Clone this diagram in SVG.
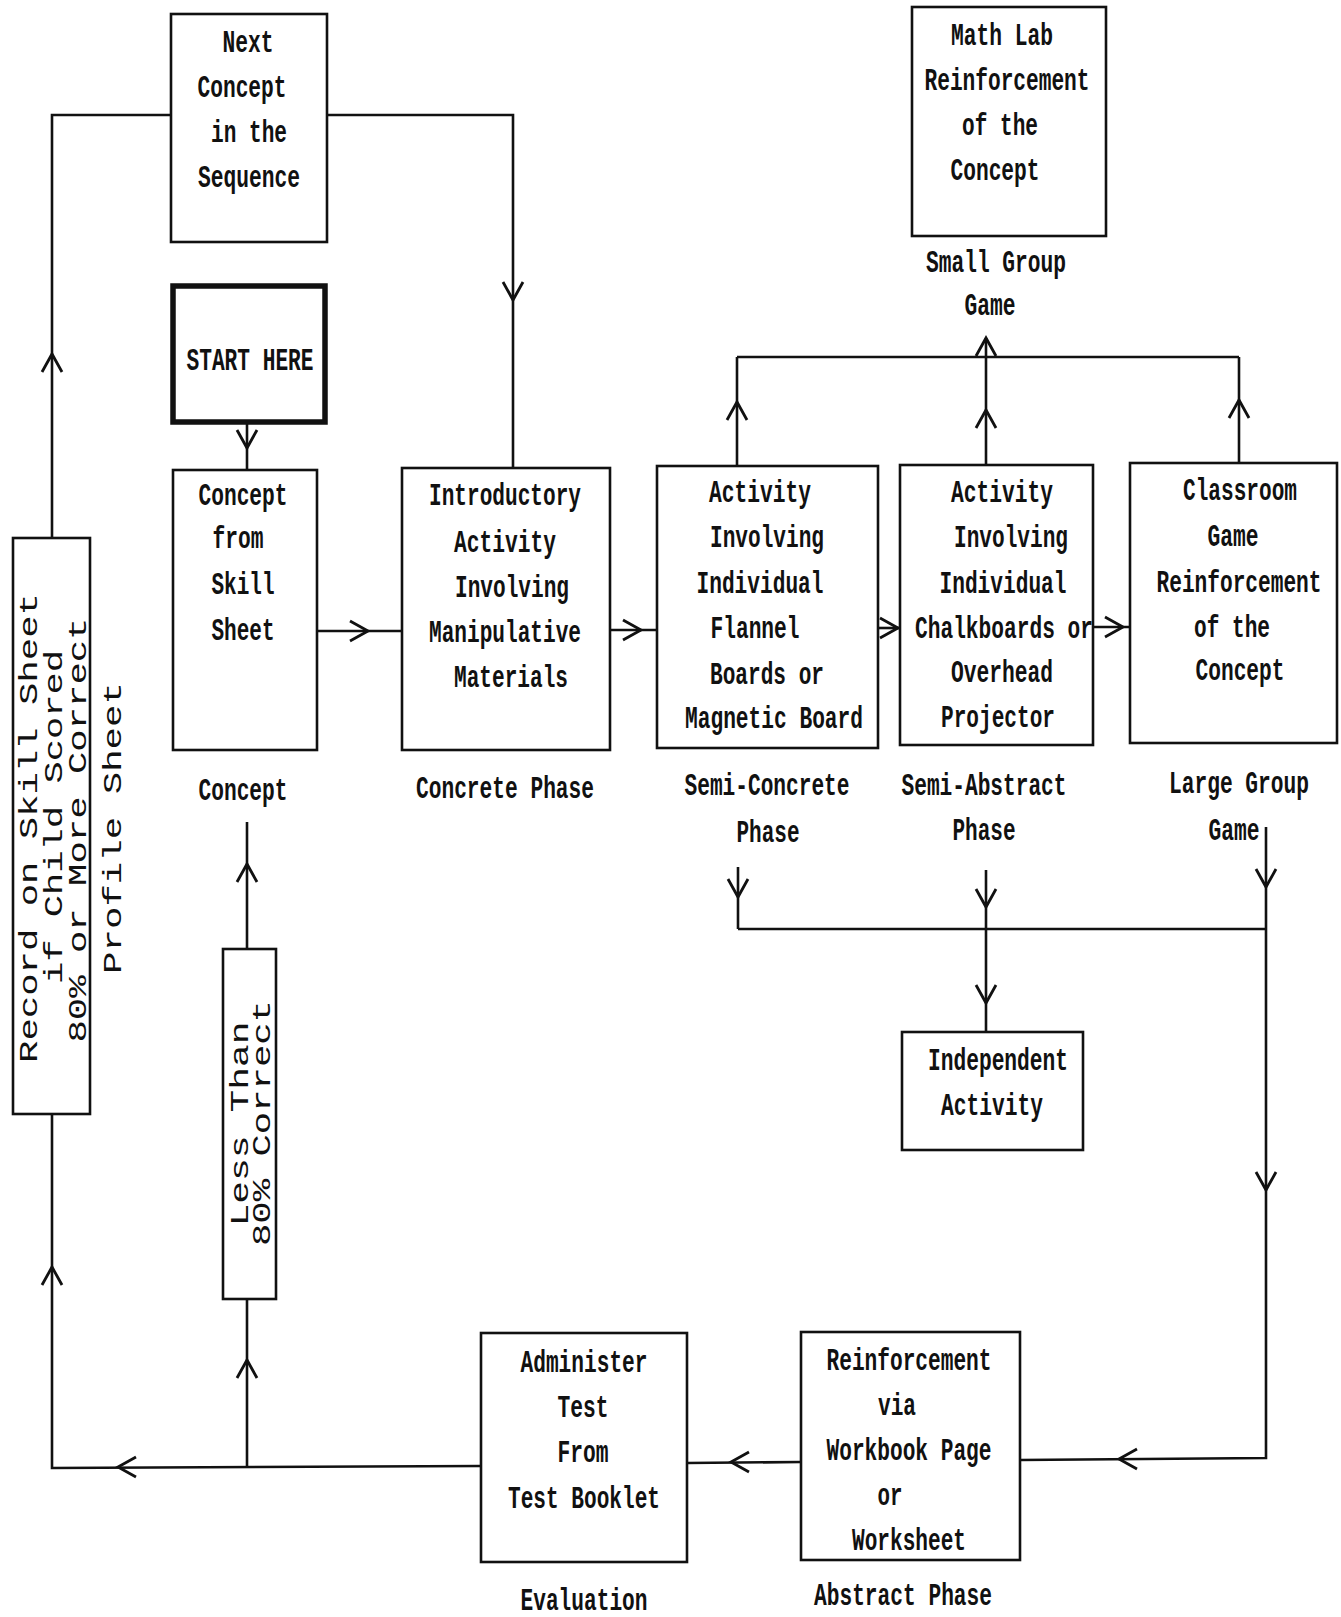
<svg xmlns="http://www.w3.org/2000/svg" xmlns:xlink="http://www.w3.org/1999/xlink" width="1341" height="1617" viewBox="0 0 1341 1617">
<style>
.bg{fill:#ffffff}
.box{fill:none;stroke:#111;stroke-width:2.6}
.thick{fill:none;stroke:#111;stroke-width:5.5}
.ln{fill:none;stroke:#111;stroke-width:2.6}
.ah{fill:none;stroke:#111;stroke-width:2.8;stroke-linejoin:miter}
.t{font-family:"Liberation Mono","DejaVu Sans Mono",monospace;font-size:31px;font-weight:bold;fill:#111;text-anchor:middle}
.v{font-family:"Liberation Mono","DejaVu Sans Mono",monospace;font-size:26px;fill:#111;text-anchor:middle}
</style>
<defs>
<path id="ah" d="M-18,-10 L0,0 L-18,10"/>
</defs>
<rect class="bg" x="0" y="0" width="1341" height="1617"/>

<g id="connectors">
<polyline class="ln" points="171,115 52,115 52,538"/>
<use href="#ah" class="ah" transform="translate(52,354) rotate(-90)"/>
<polyline class="ln" points="327,115 513,115 513,467"/>
<use href="#ah" class="ah" transform="translate(513,300) rotate(90)"/>
<line class="ln" x1="247" y1="423" x2="247" y2="470"/>
<use href="#ah" class="ah" transform="translate(247,448) rotate(90)"/>
<line class="ln" x1="317" y1="631" x2="402" y2="631"/>
<use href="#ah" class="ah" transform="translate(368,631)"/>
<line class="ln" x1="610" y1="630" x2="657" y2="630"/>
<use href="#ah" class="ah" transform="translate(641,630)"/>
<line class="ln" x1="878" y1="628" x2="900" y2="628"/>
<use href="#ah" class="ah" transform="translate(898,628)"/>
<line class="ln" x1="1093" y1="627" x2="1130" y2="627"/>
<use href="#ah" class="ah" transform="translate(1123,627)"/>
<line class="ln" x1="737" y1="466" x2="737" y2="357"/>
<use href="#ah" class="ah" transform="translate(737,402) rotate(-90)"/>
<line class="ln" x1="986" y1="465" x2="986" y2="338"/>
<use href="#ah" class="ah" transform="translate(986,410) rotate(-90)"/>
<use href="#ah" class="ah" transform="translate(986,338) rotate(-90)"/>
<line class="ln" x1="1239" y1="463" x2="1239" y2="357"/>
<use href="#ah" class="ah" transform="translate(1239,400) rotate(-90)"/>
<line class="ln" x1="737" y1="357" x2="1239" y2="357"/>
<line class="ln" x1="738" y1="929" x2="1266" y2="929"/>
<line class="ln" x1="738" y1="867" x2="738" y2="929"/>
<use href="#ah" class="ah" transform="translate(738,897) rotate(90)"/>
<line class="ln" x1="986" y1="870" x2="986" y2="1032"/>
<use href="#ah" class="ah" transform="translate(986,907) rotate(90)"/>
<use href="#ah" class="ah" transform="translate(986,1003) rotate(90)"/>
<polyline class="ln" points="1266,827 1266,1458 1020,1460"/>
<use href="#ah" class="ah" transform="translate(1266,887) rotate(90)"/>
<use href="#ah" class="ah" transform="translate(1266,1190) rotate(90)"/>
<use href="#ah" class="ah" transform="translate(1119,1459) rotate(180)"/>
<line class="ln" x1="801" y1="1462" x2="687" y2="1463"/>
<use href="#ah" class="ah" transform="translate(731,1462) rotate(180)"/>
<polyline class="ln" points="481,1466 52,1468 52,1114"/>
<use href="#ah" class="ah" transform="translate(118,1467) rotate(180)"/>
<use href="#ah" class="ah" transform="translate(52,1267) rotate(-90)"/>
<line class="ln" x1="247" y1="1467" x2="247" y2="1299"/>
<use href="#ah" class="ah" transform="translate(247,1360) rotate(-90)"/>
<line class="ln" x1="247" y1="949" x2="247" y2="822"/>
<use href="#ah" class="ah" transform="translate(247,864) rotate(-90)"/>
</g>

<g id="next-concept">
<rect class="box" x="171" y="14" width="156" height="228"/>
<text class="t" x="248" y="52" textLength="51" lengthAdjust="spacingAndGlyphs">Next</text>
<text class="t" x="242" y="97" textLength="89" lengthAdjust="spacingAndGlyphs">Concept</text>
<text class="t" x="249" y="142" textLength="76" lengthAdjust="spacingAndGlyphs">in the</text>
<text class="t" x="249" y="187" textLength="102" lengthAdjust="spacingAndGlyphs">Sequence</text>
</g>

<g id="start-here">
<rect class="thick" x="173" y="286" width="152" height="136"/>
<text class="t" x="250" y="370" textLength="127" lengthAdjust="spacingAndGlyphs">START HERE</text>
</g>

<g id="concept">
<rect class="box" x="173" y="470" width="144" height="280"/>
<text class="t" x="243" y="505" textLength="89" lengthAdjust="spacingAndGlyphs">Concept</text>
<text class="t" x="238" y="548" textLength="51" lengthAdjust="spacingAndGlyphs">from</text>
<text class="t" x="243" y="594" textLength="63" lengthAdjust="spacingAndGlyphs">Skill</text>
<text class="t" x="243" y="640" textLength="63" lengthAdjust="spacingAndGlyphs">Sheet</text>
<text class="t" x="243" y="800" textLength="89" lengthAdjust="spacingAndGlyphs">Concept</text>
</g>

<g id="introductory">
<rect class="box" x="402" y="468" width="208" height="282"/>
<text class="t" x="505" y="505" textLength="152" lengthAdjust="spacingAndGlyphs">Introductory</text>
<text class="t" x="505" y="552" textLength="102" lengthAdjust="spacingAndGlyphs">Activity</text>
<text class="t" x="512" y="597" textLength="114" lengthAdjust="spacingAndGlyphs">Involving</text>
<text class="t" x="505" y="642" textLength="152" lengthAdjust="spacingAndGlyphs">Manipulative</text>
<text class="t" x="511" y="687" textLength="114" lengthAdjust="spacingAndGlyphs">Materials</text>
<text class="t" x="505" y="798" textLength="178" lengthAdjust="spacingAndGlyphs">Concrete Phase</text>
</g>

<g id="activity-flannel">
<rect class="box" x="657" y="466" width="221" height="282"/>
<text class="t" x="760" y="502" textLength="102" lengthAdjust="spacingAndGlyphs">Activity</text>
<text class="t" x="767" y="547" textLength="114" lengthAdjust="spacingAndGlyphs">Involving</text>
<text class="t" x="760" y="593" textLength="127" lengthAdjust="spacingAndGlyphs">Individual</text>
<text class="t" x="755" y="638" textLength="89" lengthAdjust="spacingAndGlyphs">Flannel</text>
<text class="t" x="767" y="684" textLength="114" lengthAdjust="spacingAndGlyphs">Boards or</text>
<text class="t" x="774" y="728" textLength="178" lengthAdjust="spacingAndGlyphs">Magnetic Board</text>
<text class="t" x="767" y="795" textLength="165" lengthAdjust="spacingAndGlyphs">Semi-Concrete</text>
<text class="t" x="768" y="842" textLength="63" lengthAdjust="spacingAndGlyphs">Phase</text>
</g>

<g id="activity-chalkboards">
<rect class="box" x="900" y="465" width="193" height="280"/>
<text class="t" x="1002" y="502" textLength="102" lengthAdjust="spacingAndGlyphs">Activity</text>
<text class="t" x="1011" y="547" textLength="114" lengthAdjust="spacingAndGlyphs">Involving</text>
<text class="t" x="1003" y="593" textLength="127" lengthAdjust="spacingAndGlyphs">Individual</text>
<text class="t" x="1004" y="638" textLength="178" lengthAdjust="spacingAndGlyphs">Chalkboards or</text>
<text class="t" x="1002" y="682" textLength="102" lengthAdjust="spacingAndGlyphs">Overhead</text>
<text class="t" x="998" y="727" textLength="114" lengthAdjust="spacingAndGlyphs">Projector</text>
<text class="t" x="984" y="795" textLength="165" lengthAdjust="spacingAndGlyphs">Semi-Abstract</text>
<text class="t" x="984" y="840" textLength="63" lengthAdjust="spacingAndGlyphs">Phase</text>
</g>

<g id="classroom-game">
<rect class="box" x="1130" y="463" width="207" height="280"/>
<text class="t" x="1240" y="500" textLength="114" lengthAdjust="spacingAndGlyphs">Classroom</text>
<text class="t" x="1233" y="546" textLength="51" lengthAdjust="spacingAndGlyphs">Game</text>
<text class="t" x="1239" y="592" textLength="165" lengthAdjust="spacingAndGlyphs">Reinforcement</text>
<text class="t" x="1232" y="637" textLength="76" lengthAdjust="spacingAndGlyphs">of the</text>
<text class="t" x="1240" y="680" textLength="89" lengthAdjust="spacingAndGlyphs">Concept</text>
<text class="t" x="1239" y="793" textLength="140" lengthAdjust="spacingAndGlyphs">Large Group</text>
<text class="t" x="1234" y="840" textLength="51" lengthAdjust="spacingAndGlyphs">Game</text>
</g>

<g id="math-lab">
<rect class="box" x="912" y="7" width="194" height="229"/>
<text class="t" x="1002" y="45" textLength="102" lengthAdjust="spacingAndGlyphs">Math Lab</text>
<text class="t" x="1007" y="90" textLength="165" lengthAdjust="spacingAndGlyphs">Reinforcement</text>
<text class="t" x="1000" y="135" textLength="76" lengthAdjust="spacingAndGlyphs">of the</text>
<text class="t" x="995" y="180" textLength="89" lengthAdjust="spacingAndGlyphs">Concept</text>
<text class="t" x="996" y="272" textLength="140" lengthAdjust="spacingAndGlyphs">Small Group</text>
<text class="t" x="990" y="315" textLength="51" lengthAdjust="spacingAndGlyphs">Game</text>
</g>

<g id="independent-activity">
<rect class="box" x="902" y="1032" width="181" height="118"/>
<text class="t" x="998" y="1070" textLength="140" lengthAdjust="spacingAndGlyphs">Independent</text>
<text class="t" x="992" y="1115" textLength="102" lengthAdjust="spacingAndGlyphs">Activity</text>
</g>

<g id="reinforcement-workbook">
<rect class="box" x="801" y="1332" width="219" height="228"/>
<text class="t" x="909" y="1370" textLength="165" lengthAdjust="spacingAndGlyphs">Reinforcement</text>
<text class="t" x="897" y="1415" textLength="38" lengthAdjust="spacingAndGlyphs">via</text>
<text class="t" x="909" y="1460" textLength="165" lengthAdjust="spacingAndGlyphs">Workbook Page</text>
<text class="t" x="890" y="1505" textLength="25" lengthAdjust="spacingAndGlyphs">or</text>
<text class="t" x="909" y="1550" textLength="114" lengthAdjust="spacingAndGlyphs">Worksheet</text>
<text class="t" x="903" y="1605" textLength="178" lengthAdjust="spacingAndGlyphs">Abstract Phase</text>
</g>

<g id="administer-test">
<rect class="box" x="481" y="1333" width="206" height="229"/>
<text class="t" x="584" y="1372" textLength="127" lengthAdjust="spacingAndGlyphs">Administer</text>
<text class="t" x="583" y="1417" textLength="51" lengthAdjust="spacingAndGlyphs">Test</text>
<text class="t" x="583" y="1462" textLength="51" lengthAdjust="spacingAndGlyphs">From</text>
<text class="t" x="584" y="1508" textLength="152" lengthAdjust="spacingAndGlyphs">Test Booklet</text>
<text class="t" x="584" y="1610" textLength="127" lengthAdjust="spacingAndGlyphs">Evaluation</text>
</g>

<g id="record-skill-sheet">
<rect class="box" x="13" y="538" width="77" height="576"/>
<text class="v" transform="translate(37,828) rotate(-90)" x="0" y="0" textLength="470" lengthAdjust="spacingAndGlyphs">Record on Skill Sheet</text>
<text class="v" transform="translate(62,817) rotate(-90)" x="0" y="0" textLength="334" lengthAdjust="spacingAndGlyphs">if Child Scored</text>
<text class="v" transform="translate(86,830) rotate(-90)" x="0" y="0" textLength="425" lengthAdjust="spacingAndGlyphs">80% or More Correct</text>
<text class="v" transform="translate(121,828) rotate(-90)" x="0" y="0" textLength="292" lengthAdjust="spacingAndGlyphs">Profile Sheet</text>
</g>

<g id="less-than">
<rect class="box" x="223" y="949" width="53" height="350"/>
<text class="v" transform="translate(248,1124) rotate(-90)" x="0" y="0" textLength="205" lengthAdjust="spacingAndGlyphs">Less Than</text>
<text class="v" transform="translate(270,1123) rotate(-90)" x="0" y="0" textLength="246" lengthAdjust="spacingAndGlyphs">80% Correct</text>
</g>
</svg>
